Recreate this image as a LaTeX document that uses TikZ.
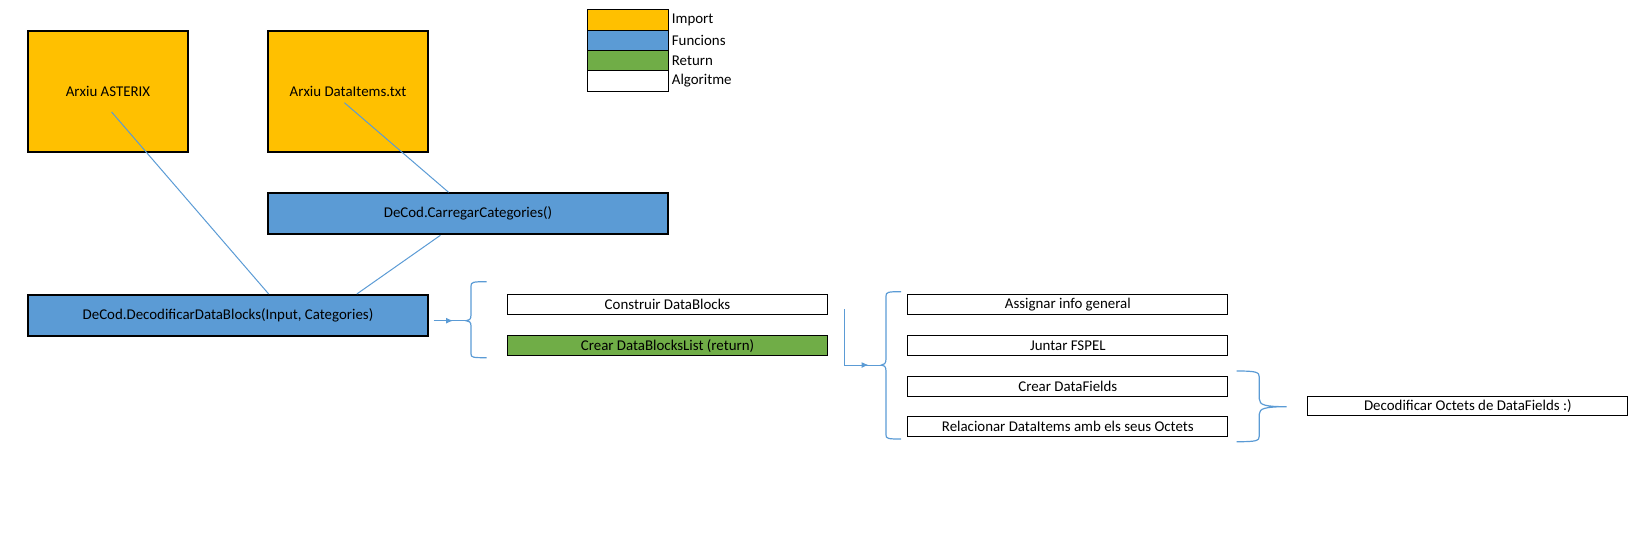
\documentclass[tikz,border=0pt]{standalone}
\usepackage{fontspec}
\setmainfont{Carlito}
\usetikzlibrary{arrows.meta,decorations.markings}
\definecolor{imp}{HTML}{FFC000}
\definecolor{fun}{HTML}{5B9BD5}
\definecolor{ret}{HTML}{70AD47}
\definecolor{lnk}{HTML}{5B9BD5}
\tikzset{
  bigbox/.style={draw=black,line width=2pt,anchor=north west,inner sep=0pt,font=\fontsize{14.9}{17}\selectfont,text=black},
  smallbox/.style={draw=black,line width=1pt,anchor=north west,inner sep=0pt,minimum width=320pt,minimum height=20pt,font=\fontsize{14.9}{17}\selectfont,text=black,fill=white},
  legbox/.style={draw=black,line width=1pt,anchor=north west,inner sep=0pt,minimum width=80.4pt,minimum height=20.3pt},
  legtxt/.style={anchor=west,inner sep=0pt,font=\fontsize{14.9}{17}\selectfont,text=black},
  conn/.style={draw=lnk,line width=1pt},
  bracestyle/.style={draw=lnk,line width=1.2pt},
  midarrow/.style={postaction={decorate},decoration={markings,mark=at position -13pt with {\arrow[lnk]{Latex[length=7pt,width=6pt]}}}}
}
\begin{document}
\begin{tikzpicture}[x=1pt,y=-1pt]
\useasboundingbox (0,0) rectangle (1643,547);

% legend
\node[legbox,fill=imp] (l1) at (587.3,9.3) {};
\node[legbox,fill=fun] (l2) at (587.3,29.6) {};
\node[legbox,fill=ret] (l3) at (587.3,49.9) {};
\node[legbox,fill=white] (l4) at (587.3,70.2) {};
\node[legtxt] (t1) at ([xshift=3pt]l1.east) {Import};
\node[legtxt] (t2) at ([xshift=3pt]l2.east) {Funcions};
\node[legtxt] (t3) at ([xshift=3pt]l3.east) {Return};
\node[legtxt] (t4) at ([xshift=3pt]l4.east) {Algoritme};

% big boxes
\node[bigbox,fill=imp,minimum width=160pt,minimum height=121pt] (ast) at (27,30) {Arxiu ASTERIX};
\node[bigbox,fill=imp,minimum width=160pt,minimum height=121pt] (di) at (267,30) {Arxiu DataItems.txt};
\node[bigbox,fill=fun,minimum width=400pt,minimum height=41pt] (carr) at (267,192.3) {DeCod.CarregarCategories()};
\node[bigbox,fill=fun,minimum width=400pt,minimum height=41pt] (dec) at (27,294) {DeCod.DecodificarDataBlocks(Input, Categories)};

% small boxes
\node[smallbox] (cons) at (507,294.3) {Construir DataBlocks};
\node[smallbox,fill=ret] (crear) at (507,335.3) {Crear DataBlocksList (return)};
\node[smallbox] (assig) at (907.3,294.3) {Assignar info general};
\node[smallbox] (junt) at (907.3,335.3) {Juntar FSPEL};
\node[smallbox] (cdf) at (907.3,375.5) {Crear DataFields};
\node[smallbox] (rel) at (907.3,415.5) {Relacionar DataItems amb els seus Octets};
\node[smallbox,minimum height=19pt] (deco) at (1307.3,396) {Decodificar Octets de DataFields :)};

% connectors between the boxes
\coordinate (a1) at ([xshift=3.6pt,yshift=-20.5pt]ast.center);
\coordinate (d1) at ([xshift=-3.6pt,yshift=-11.2pt]di.center);
\draw[conn] (a1) -- ([xshift=40.7pt]dec.north);
\draw[conn] (d1) -- ([xshift=-19.4pt]carr.north);
\draw[conn] ([xshift=-27.6pt]carr.south) -- ([xshift=128.8pt]dec.north);

% braces
\coordinate (b1tip) at (466,320.7);
\coordinate (b2tip) at (881.5,365);
\coordinate (b3tip) at (1286.7,406.7);
\draw[bracestyle] (486.7,281.7) .. controls (473,281.7) and (471,282) .. (471,286)
  -- (471,315) .. controls (471,319.5) and (469,320.7) .. (b1tip)
  .. controls (469,320.7) and (471,322) .. (471,326)
  -- (471,354) .. controls (471,357.5) and (473,357.7) .. (486.7,357.7);
\draw[bracestyle] (901,291.7) .. controls (888,291.7) and (886,292) .. (886,296)
  -- (886,359) .. controls (886,363.5) and (884,365) .. (b2tip)
  .. controls (884,365) and (886,366.5) .. (886,371)
  -- (886,435) .. controls (886,438.7) and (888,439) .. (901,439);
\draw[bracestyle] (1236.7,371) .. controls (1256,371) and (1259.3,372) .. (1259.3,377)
  -- (1259.3,399) .. controls (1259.3,405) and (1265,406.7) .. (b3tip)
  .. controls (1265,406.7) and (1259.3,408.5) .. (1259.3,414)
  -- (1259.3,436) .. controls (1259.3,441) and (1256,441.7) .. (1236.7,441.7);

% arrows into braces
\coordinate (s1) at ([xshift=4.7pt]dec.east |- b1tip);
\coordinate (e1) at (844.3,309.3);
\draw[conn,midarrow] (s1) -- (b1tip);
\draw[conn,midarrow] (e1) |- (b2tip);
\end{tikzpicture}
\end{document}
